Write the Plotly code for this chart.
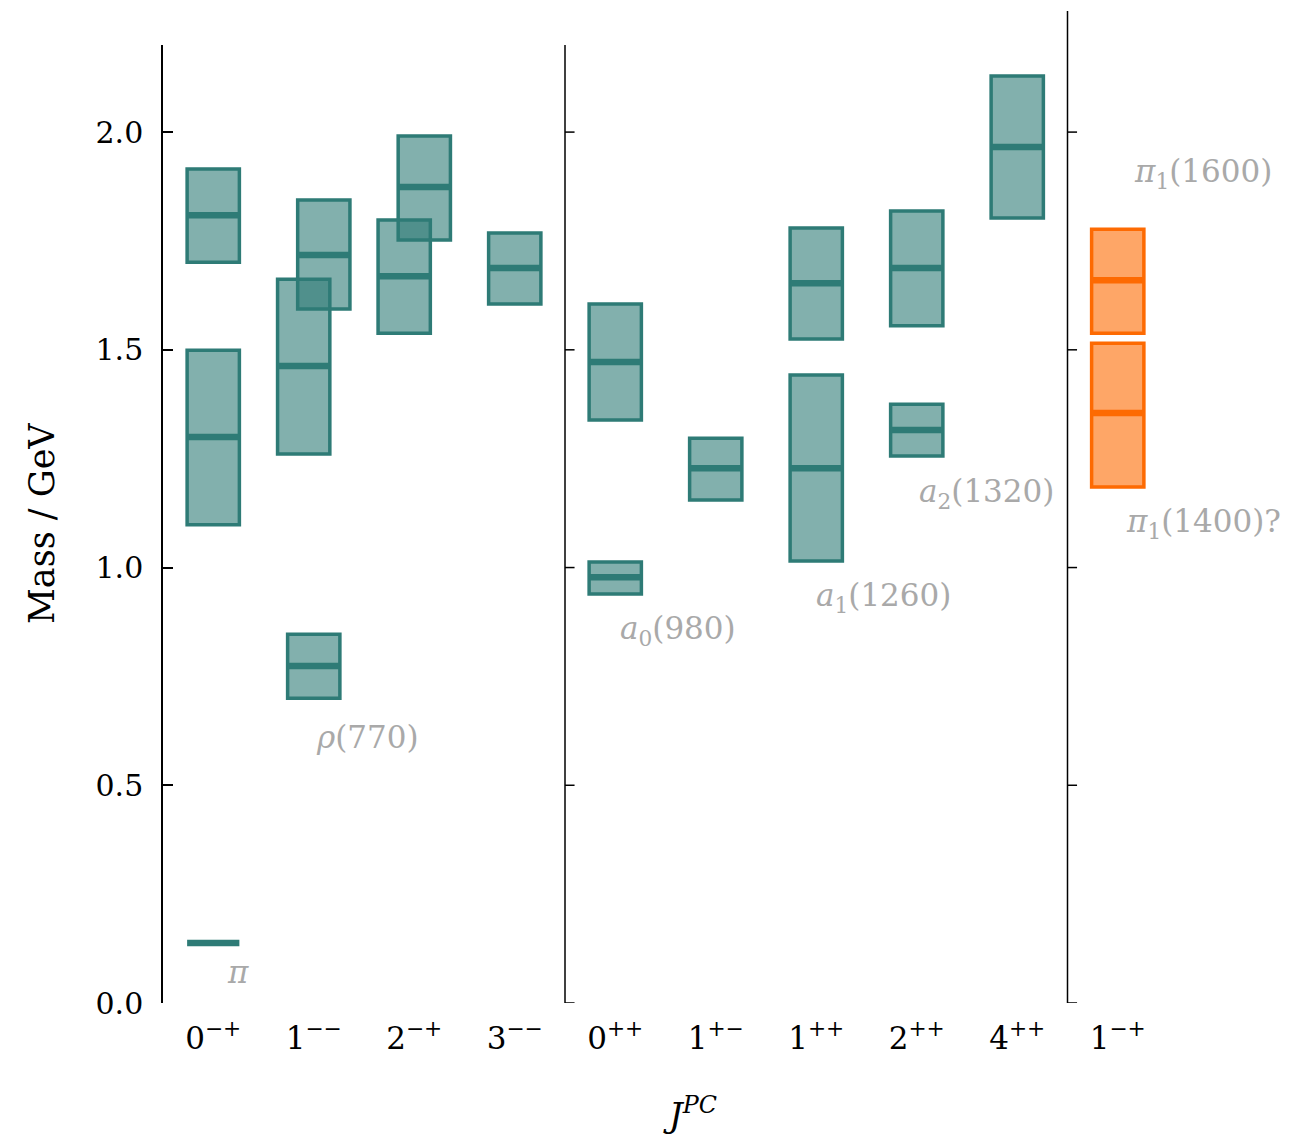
import plotly.graph_objects as go

# ---------------- data ----------------
jpc_labels = ["0<sup>−+</sup>", "1<sup>−−</sup>", "2<sup>−+</sup>", "3<sup>−−</sup>",
              "0<sup>++</sup>", "1<sup>+−</sup>", "1<sup>++</sup>", "2<sup>++</sup>",
              "4<sup>++</sup>", "1<sup>−+</sup>"]

state_jpc   = [0, 0, 0, 1, 1, 1, 2, 2, 3, 4, 4, 5, 6, 6, 7, 7, 8, 9, 9]
state_shift = [0, 0, 0, 0, -0.1, 0.1, -0.1, 0.1, 0, 0, 0, 0, 0, 0, 0, 0, 0, 0, 0]
state_mass  = [0.138, 1.300, 1.809, 0.774, 1.463, 1.718, 1.669, 1.874, 1.688,
               0.978, 1.472, 1.228, 1.228, 1.653, 1.316, 1.688, 1.966, 1.660, 1.355]
state_low   = [0.138, 1.098, 1.701, 0.700, 1.261, 1.594, 1.538, 1.752, 1.605,
               0.939, 1.339, 1.155, 1.015, 1.525, 1.256, 1.555, 1.803, 1.538, 1.185]
state_high  = [0.138, 1.499, 1.915, 0.847, 1.662, 1.844, 1.798, 1.991, 1.768,
               1.013, 1.605, 1.297, 1.442, 1.780, 1.375, 1.819, 2.129, 1.777, 1.515]
state_exotic = [False] * 17 + [True, True]

label_text = ["<i>π</i>", "<i>ρ</i>(770)", "<i>a</i><sub>0</sub>(980)",
              "<i>a</i><sub>1</sub>(1260)", "<i>a</i><sub>2</sub>(1320)",
              "<i>π</i><sub>1</sub>(1600)", "<i>π</i><sub>1</sub>(1400)?"]
label_x = [0.246, 1.53, 4.62, 6.67, 7.69, 9.85, 9.85]
label_y = [0.071, 0.611, 0.855, 0.932, 1.171, 1.906, 1.102]

panel_edges = [3.5, 8.5]
y_ticks = [0.0, 0.5, 1.0, 1.5, 2.0]

# ---------------- style ----------------
TEAL = "#2e7b76"
TEAL_FILL = "rgba(46,123,118,0.6)"
ORANGE = "#fd6a02"
ORANGE_FILL = "rgba(253,106,2,0.6)"
GRAY = "#a9a9a9"
FONT = "DejaVu Serif"
HALF_W = 0.26
X_RANGE = [-0.5, 9.5]

fig = go.Figure()
# invisible trace to establish axes
fig.add_trace(go.Scatter(x=list(range(len(jpc_labels))), y=[None] * len(jpc_labels),
                         mode="markers", showlegend=False, hoverinfo="skip"))

shapes = []
for j, s, m, lo, hi, ex in zip(state_jpc, state_shift, state_mass, state_low, state_high, state_exotic):
    xc = j + s
    edge = ORANGE if ex else TEAL
    fill = ORANGE_FILL if ex else TEAL_FILL
    if hi > lo:
        shapes.append(dict(type="rect", xref="x", yref="y", x0=xc - HALF_W, x1=xc + HALF_W,
                           y0=lo, y1=hi, fillcolor=fill, line=dict(color=edge, width=3.5)))
    shapes.append(dict(type="line", xref="x", yref="y", x0=xc - HALF_W, x1=xc + HALF_W,
                       y0=m, y1=m, line=dict(color=edge, width=6.5)))

# panel spines
for k, xe in enumerate(panel_edges):
    shapes.append(dict(type="line", xref="x", yref="paper", x0=xe, x1=xe, y0=0,
                       y1=1.0 if k == 0 else 1.0355, line=dict(color="black", width=1.5)))
    for yt in y_ticks:
        shapes.append(dict(type="line", xref="x", yref="y", x0=xe, x1=xe + 0.095,
                           y0=yt, y1=yt, line=dict(color="black", width=1.5)))

annotations = []
span = X_RANGE[1] - X_RANGE[0]
for t, x, y in zip(label_text, label_x, label_y):
    # paper x so labels beyond the axis range (right of the last panel) are still drawn
    annotations.append(dict(text=t, x=(x - X_RANGE[0]) / span, y=y, xref="paper", yref="y",
                            showarrow=False,
                            font=dict(family=FONT, size=31, color=GRAY),
                            xanchor="center", yanchor="middle"))

annotations.append(dict(text="Mass / GeV", xref="paper", yref="paper", x=0, y=0.5,
                        xshift=-121, textangle=-90, showarrow=False,
                        font=dict(family=FONT, size=35, color="black"),
                        xanchor="center", yanchor="middle"))
annotations.append(dict(text="<i>J</i><sup><i>PC</i></sup>", xref="paper", yref="paper",
                        x=(690 - 163) / 1005, y=0, yshift=-110, showarrow=False,
                        font=dict(family=FONT, size=34, color="black"),
                        xanchor="center", yanchor="middle"))

# page body has an 8px margin: size the figure so the plot lands where the reference has it
fig.update_layout(
    width=1305, height=1129,
    margin=dict(l=155, r=145, t=37, b=134),
    plot_bgcolor="white", paper_bgcolor="white",
    showlegend=False,
    shapes=shapes, annotations=annotations,
    xaxis=dict(range=X_RANGE, tickmode="array", tickvals=list(range(len(jpc_labels))),
               ticktext=jpc_labels, ticks="", showline=False, showgrid=False, zeroline=False,
               tickfont=dict(family=FONT, size=31, color="black"), ticklabelstandoff=14,
               fixedrange=True),
    yaxis=dict(range=[0, 2.2], tickmode="array", tickvals=y_ticks,
               ticktext=[f"{v:.1f}" for v in y_ticks],
               ticks="inside", ticklen=10, tickwidth=1.5, tickcolor="black",
               showline=True, linecolor="black", linewidth=1.5,
               showgrid=False, zeroline=False,
               tickfont=dict(family=FONT, size=30, color="black"), ticklabelstandoff=12,
               fixedrange=True),
)

fig.write_html("out.html")
